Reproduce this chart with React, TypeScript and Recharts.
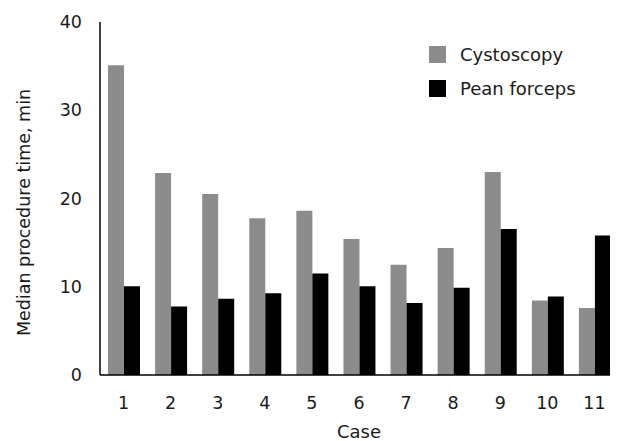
import { BarChart, Bar, XAxis, YAxis, Legend } from "recharts";

const cases = ["1", "2", "3", "4", "5", "6", "7", "8", "9", "10", "11"];
const cystoscopy = [35.1, 22.9, 20.5, 17.75, 18.6, 15.4, 12.5, 14.4, 23.0, 8.45, 7.6];
const peanForceps = [10.05, 7.75, 8.65, 9.25, 11.5, 10.05, 8.15, 9.9, 16.55, 8.9, 15.8];
const yTicks = [0, 10, 20, 30, 40];

const series = [
  { key: "cystoscopy", name: "Cystoscopy", color: "#8c8c8c" },
  { key: "pean", name: "Pean forceps", color: "#000000" },
];

const data = cases.map((c, i) => ({ case: c, cystoscopy: cystoscopy[i], pean: peanForceps[i] }));

const font = "'DejaVu Sans', Verdana, sans-serif";

function LegendBox() {
  return (
    <div style={{ fontFamily: font, fontSize: 18, color: "#1a1a1a" }}>
      {series.map((s) => (
        <div key={s.key} style={{ display: "flex", alignItems: "center", height: 34 }}>
          <span style={{ width: 17, height: 17, background: s.color, display: "inline-block", marginRight: 14 }} />
          <span>{s.name}</span>
        </div>
      ))}
    </div>
  );
}

export default function App() {
  return (
    <div style={{ width: 610, height: 433, fontFamily: font }}>
      <BarChart width={610} height={433} data={data} margin={{ top: 14, right: 0, bottom: 0, left: 0 }} barGap={0} barSize={16}>
        <XAxis
          dataKey="case"
          height={66}
          tickLine={false}
          tickSize={0}
          tickMargin={22}
          axisLine={{ stroke: "#000", strokeWidth: 1.5 }}
          tick={{ fontSize: 17.5, fill: "#1a1a1a", fontFamily: font }}
          label={{ value: "Case", position: "insideBottom", offset: 3, style: { fontSize: 18, fill: "#1a1a1a", fontFamily: font } }}
        />
        <YAxis
          width={92}
          domain={[0, 40]}
          ticks={yTicks}
          tickLine={false}
          tickSize={0}
          tickMargin={18}
          axisLine={{ stroke: "#000", strokeWidth: 1.5 }}
          tick={{ fontSize: 17.5, fill: "#1a1a1a", fontFamily: font }}
          label={{
            content: ({ viewBox }: any) => (
              <text
                transform={`translate(${viewBox.x + 17}, ${viewBox.y + viewBox.height / 2 + 14}) rotate(-90)`}
                textAnchor="middle"
                dominantBaseline="middle"
                style={{ fontSize: 17.5, fill: "#1a1a1a", fontFamily: font }}
              >
                Median procedure time, min
              </text>
            ),
          }}
        />
        <Legend
          layout="vertical"
          verticalAlign="middle"
          align="center"
          content={() => <LegendBox />}
          wrapperStyle={{ top: 29, left: 421, width: 200 }}
        />
        {series.map((s) => (
          <Bar key={s.key} dataKey={s.key} name={s.name} fill={s.color} isAnimationActive={false} />
        ))}
      </BarChart>
    </div>
  );
}
